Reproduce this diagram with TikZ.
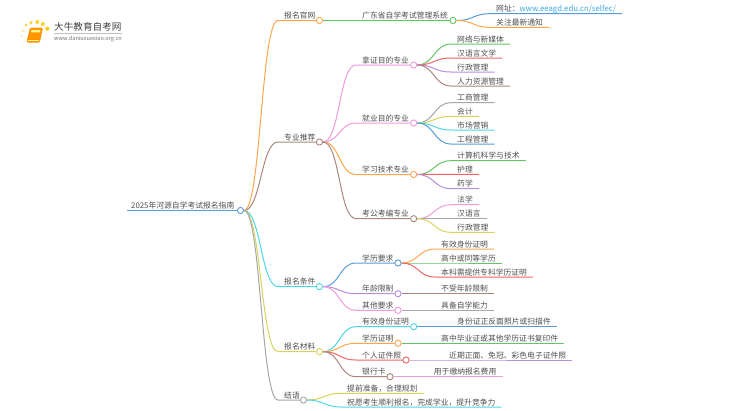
\documentclass[tikz,border=0pt]{standalone}
\usepackage{fontspec}
\setmainfont{Noto Sans CJK SC}
\usetikzlibrary{backgrounds}

\definecolor{cOrange}{HTML}{FFA64D}
\definecolor{cBrown}{HTML}{A9877C}
\definecolor{cCyan}{HTML}{4DD5E6}
\definecolor{cYellow}{HTML}{D6D35F}
\definecolor{cGrey}{HTML}{A6A6A6}
\definecolor{cGreen}{HTML}{62C462}
\definecolor{cBlue}{HTML}{5A9BD5}
\definecolor{cRed}{HTML}{EE6464}
\definecolor{cPurple}{HTML}{B98EDC}
\definecolor{cPink}{HTML}{F09ADC}
\definecolor{cText}{HTML}{4F4F4F}
\definecolor{cUrl}{HTML}{3BA7E8}

\tikzset{
  topic/.style={anchor=south west, inner xsep=6pt, inner ysep=0.6pt,
    text height=6.9pt, text depth=1pt, text=cText,
    font=\fontsize{7.8}{9}\selectfont},
  dot/.style={circle, draw=#1, fill=white, line width=0.9pt,
    minimum size=6.2pt, inner sep=0pt},
  link/.style={draw=#1, line width=1pt},
}

\newcommand{\lnk}[3]{\draw[link=#1] (#2.east) .. controls +(17,0) and +(-17,0) .. (#3.south west) -- (#3.south east);}

\begin{document}
\begin{tikzpicture}[x=1pt,y=-1pt]
\useasboundingbox (0,0) rectangle (750,410);

\foreach \px/\py/\pr/\pc in {26/25/1.7/70, 31/22.7/1.9/75, 37.3/22/2/80, 42.7/24/2/85, 47.3/28.7/2.1/90, 22.7/30.7/1.4/50, 21.7/36/1.2/40, 23.3/42.3/1/25}
  \fill[yellow!60!orange, fill opacity=0.\pc] (\px,\py) circle (\pr);
\fill[orange!85!yellow, rounded corners=1.5pt] (30,27.6) -- (43,27.6) -- (39.8,42.6) -- (26.4,42.6) -- cycle;
\fill[yellow!45!white] (31.5,30) -- (40.5,30) -- (40,32.4) -- (31,32.4) -- cycle;
\draw[yellow!45!white, line width=0.6pt] (28,39.8) -- (38.5,39.8);
\node[anchor=west, inner sep=0pt, text=black!75, font=\fontsize{9.6}{11}\selectfont] (logoName) at (54,26.5) {大牛教育自考网};
\node[anchor=west, inner sep=0pt, text=black!55, font=\fontsize{5.6}{7}\selectfont] (logoUrl) at (54,38.6) {www.daniuxuexiao.org.cn};
\draw[black!25, line width=0.4pt] (logoName.south west) ++(0,1.6) -- ++(68,0);

\node[topic] (root) at (125,210.5) {2025年河源自学考试报名指南};
\node[dot=cBlue] (rootDot) at (240.5,210.5) {};

\node[topic] (site) at (278,20.5) {报名官网};
\node[dot=cOrange] (siteDot) at (319.5,20.5) {};
\node[topic] (major) at (278,142) {专业推荐};
\node[dot=cBrown] (majorDot) at (319.5,142) {};
\node[topic] (cond) at (278,286.7) {报名条件};
\node[dot=cCyan] (condDot) at (319.5,286.7) {};
\node[topic] (mater) at (278,351.7) {报名材料};
\node[dot=cYellow] (materDot) at (319.5,351.7) {};
\node[topic] (summ) at (278,400) {结语};
\node[dot=cGrey] (summDot) at (303.5,400) {};

\node[topic] (gdsys) at (356,20.5) {广东省自学考试管理系统};
\node[dot=cGreen] (gdsysDot) at (453,20.5) {};
\node[topic] (cert) at (356,65) {拿证目的专业};
\node[dot=cPink] (certDot) at (413.7,65) {};
\node[topic] (job) at (356,123) {就业目的专业};
\node[dot=cPink] (jobDot) at (413.7,123) {};
\node[topic] (study) at (356,174.5) {学习技术专业};
\node[dot=cOrange] (studyDot) at (413.7,174.5) {};
\node[topic] (exam) at (356,218.7) {考公考编专业};
\node[dot=cBrown] (examDot) at (413.7,218.7) {};
\node[topic] (edu) at (356,263) {学历要求};
\node[dot=cBlue] (eduDot) at (398,263) {};
\node[topic] (age) at (356,293.7) {年龄限制};
\node[dot=cPurple] (ageDot) at (398,293.7) {};
\node[topic] (other) at (356,310.3) {其他要求};
\node[dot=cPink] (otherDot) at (398,310.3) {};
\node[topic] (idcard) at (356,326.7) {有效身份证明};
\node[dot=cCyan] (idcardDot) at (413.7,326.7) {};
\node[topic] (diploma) at (356,343.3) {学历证明};
\node[dot=cOrange] (diplomaDot) at (398,343.3) {};
\node[topic] (photo) at (356,360) {个人证件照};
\node[dot=cRed] (photoDot) at (406,360) {};
\node[topic] (bank) at (356,376.7) {银行卡};
\node[dot=cBrown] (bankDot) at (390,376.7) {};
\node[topic] (prep) at (341,393.3) {提前准备，合理规划};
\node[topic] (wish) at (341,407) {祝愿考生顺利报名，完成学业，提升竞争力};

\node[topic] (url) at (490,13.7) {网址：\textcolor{cUrl}{www.eeagd.edu.cn/selfec/}};
\node[topic] (notice) at (490,27.3) {关注最新通知};
\node[topic] (media) at (451,44) {网络与新媒体};
\node[topic] (chinese) at (451,58) {汉语言文学};
\node[topic] (admin) at (451,72) {行政管理};
\node[topic] (hr) at (451,86) {人力资源管理};
\node[topic] (biz) at (451,102.7) {工商管理};
\node[topic] (acct) at (451,116.3) {会计};
\node[topic] (market) at (451,130) {市场营销};
\node[topic] (engin) at (451,144) {工程管理};
\node[topic] (cs) at (451,160.7) {计算机科学与技术};
\node[topic] (nurse) at (451,174.3) {护理};
\node[topic] (pharm) at (451,188.7) {药学};
\node[topic] (law) at (451,204.7) {法学};
\node[topic] (lang) at (451,218.7) {汉语言};
\node[topic] (admin2) at (451,232.3) {行政管理};
\node[topic] (hasid) at (435,249) {有效身份证明};
\node[topic] (high) at (435,263) {高中或同等学历};
\node[topic] (bach) at (435,277) {本科需提供专科学历证明};
\node[topic] (noage) at (435,293.7) {不受年龄限制};
\node[topic] (self) at (435,310.3) {具备自学能力};
\node[topic] (idscan) at (451,326.7) {身份证正反面照片或扫描件};
\node[topic] (copy) at (435,343.3) {高中毕业证或其他学历证书复印件};
\node[topic] (recent) at (443,360) {近期正面、免冠、彩色电子证件照};
\node[topic] (fee) at (427.7,376.7) {用于缴纳报名费用};

\begin{pgfonlayer}{background}
\draw[link=cBlue] ([xshift=2pt]root.south west) -- (rootDot.west);
\lnk{cOrange}{rootDot}{site}
\lnk{cBrown}{rootDot}{major}
\lnk{cCyan}{rootDot}{cond}
\lnk{cYellow}{rootDot}{mater}
\lnk{cGrey}{rootDot}{summ}
\lnk{cGreen}{siteDot}{gdsys}
\lnk{cPink}{majorDot}{cert}
\lnk{cPink}{majorDot}{job}
\lnk{cOrange}{majorDot}{study}
\lnk{cBrown}{majorDot}{exam}
\lnk{cBlue}{condDot}{edu}
\lnk{cPurple}{condDot}{age}
\lnk{cPink}{condDot}{other}
\lnk{cCyan}{materDot}{idcard}
\lnk{cOrange}{materDot}{diploma}
\lnk{cRed}{materDot}{photo}
\lnk{cBrown}{materDot}{bank}
\lnk{cYellow}{summDot}{prep}
\lnk{cCyan}{summDot}{wish}
\lnk{cBlue}{gdsysDot}{url}
\lnk{cOrange}{gdsysDot}{notice}
\lnk{cGreen}{certDot}{media}
\lnk{cRed}{certDot}{chinese}
\lnk{cPurple}{certDot}{admin}
\lnk{cBrown}{certDot}{hr}
\lnk{cGrey}{jobDot}{biz}
\lnk{cYellow}{jobDot}{acct}
\lnk{cCyan}{jobDot}{market}
\lnk{cBlue}{jobDot}{engin}
\lnk{cGreen}{studyDot}{cs}
\lnk{cRed}{studyDot}{nurse}
\lnk{cPurple}{studyDot}{pharm}
\lnk{cPink}{examDot}{law}
\lnk{cGrey}{examDot}{lang}
\lnk{cYellow}{examDot}{admin2}
\lnk{cOrange}{eduDot}{hasid}
\lnk{cGreen}{eduDot}{high}
\lnk{cRed}{eduDot}{bach}
\lnk{cBrown}{ageDot}{noage}
\lnk{cGrey}{otherDot}{self}
\lnk{cBlue}{idcardDot}{idscan}
\lnk{cGreen}{diplomaDot}{copy}
\lnk{cPurple}{photoDot}{recent}
\lnk{cPink}{bankDot}{fee}
\end{pgfonlayer}
\end{tikzpicture}
\end{document}
